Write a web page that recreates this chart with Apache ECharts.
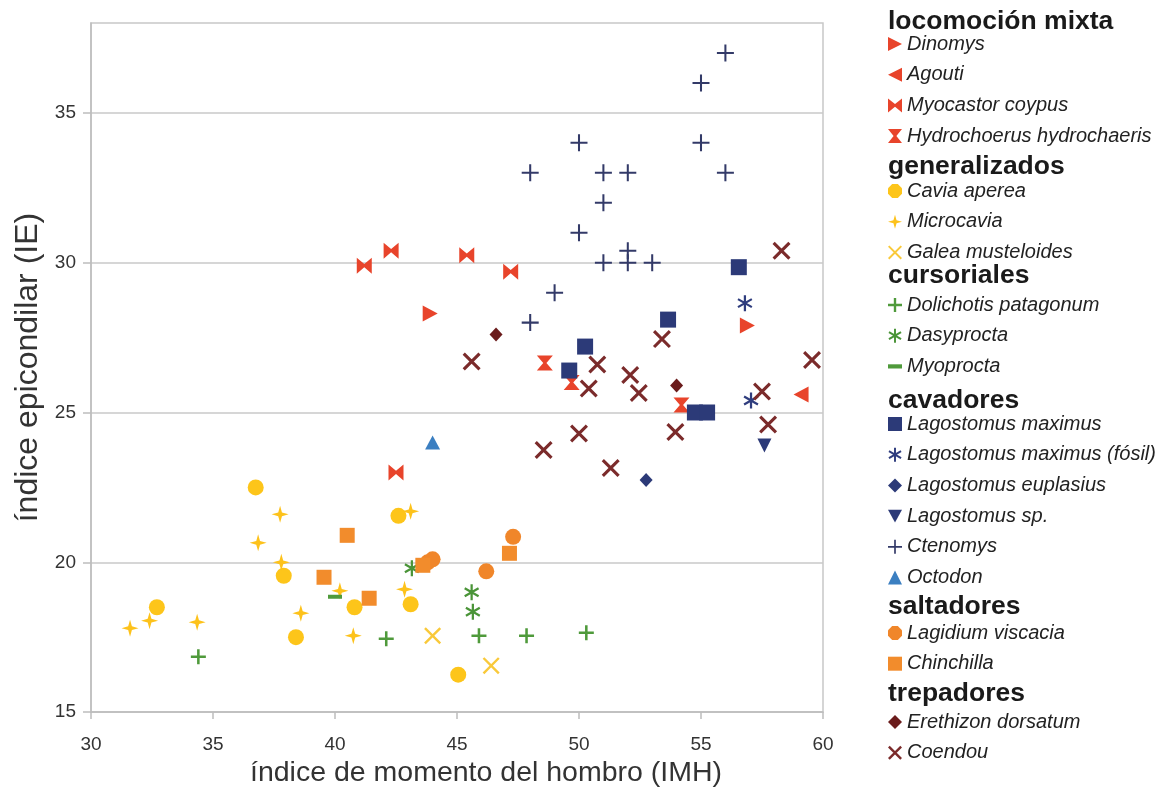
<!DOCTYPE html>
<html><head><meta charset="utf-8">
<script src="https://cdn.jsdelivr.net/npm/echarts@6/dist/echarts.min.js"></script>
<style>html,body{margin:0;padding:0;background:#fff}#c{width:1162px;height:793px}</style>
</head><body><div id="c"></div><script>
// ---- data (x = IMH, y = IE) ----
const dinomys = [[43.9,28.3],[56.9,27.9]];
const agouti = [[59.1,25.6]];
const myocastor = [[41.2,29.9],[42.3,30.4],[45.4,30.25],[47.2,29.7],[42.5,23.0]];
const hydrochoerus = [[48.6,26.65],[49.7,26.0],[54.2,25.25]];
const cavia = [[36.75,22.5],[37.9,19.55],[32.7,18.5],[38.4,17.5],[42.6,21.55],[40.8,18.5],[43.1,18.6],[45.05,16.25]];
const microcavia = [[37.75,21.6],[36.85,20.65],[37.8,20.0],[38.6,18.3],[31.6,17.8],[32.4,18.05],[34.35,18.0],[43.1,21.7],[40.2,19.05],[42.85,19.1],[40.75,17.55]];
const galea = [[44.0,17.55],[46.4,16.55]];
const dolichotis = [[34.4,16.85],[42.1,17.45],[45.9,17.55],[47.85,17.55],[50.3,17.65]];
const dasyprocta = [[43.15,19.8],[45.6,19.0],[45.65,18.35]];
const myoprocta = [[40.0,18.85]];
const lagMaximus = [[54.75,25.0],[55.25,25.0],[56.55,29.85],[53.65,28.1],[50.25,27.2],[49.6,26.4]];
const lagFosil = [[56.8,28.65],[57.05,25.4]];
const lagEuplasius = [[52.75,22.75]];
const lagSp = [[57.6,23.9]];
const ctenomys = [[56.0,37.0],[55.0,36.0],[50.0,34.0],[55.0,34.0],[48.0,33.0],[51.0,33.0],[52.0,33.0],[56.0,33.0],[51.0,32.0],[50.0,31.0],[52.0,30.4],[51.0,30.0],[52.0,30.0],[53.0,30.0],[49.0,29.0],[48.0,28.0]];
const octodon = [[44.0,24.0]];
const lagidium = [[47.3,20.85],[46.2,19.7],[43.8,20.0],[44.0,20.1]];
const chinchilla = [[40.5,20.9],[41.4,18.8],[47.15,20.3],[43.6,19.9],[39.55,19.5]];
const erethizon = [[46.6,27.6],[54.0,25.9]];
const coendou = [[45.6,26.7],[50.75,26.6],[50.4,25.8],[52.1,26.25],[52.45,25.65],[53.4,27.45],[50.0,24.3],[48.55,23.75],[51.3,23.15],[53.95,24.35],[58.3,30.4],[59.55,26.75],[57.5,25.7],[57.75,24.6]];

const xTicks = [30,35,40,45,50,55,60];
const yTicks = [15,20,25,30,35];

const groupTitles = ['locomoción mixta','generalizados','cursoriales','cavadores','saltadores','trepadores'];
const groupMembers = [
  ['Dinomys','Agouti','Myocastor coypus','Hydrochoerus hydrochaeris'],
  ['Cavia aperea','Microcavia','Galea musteloides'],
  ['Dolichotis patagonum','Dasyprocta','Myoprocta'],
  ['Lagostomus maximus','Lagostomus maximus (fósil)','Lagostomus euplasius','Lagostomus sp.','Ctenomys','Octodon'],
  ['Lagidium viscacia','Chinchilla'],
  ['Erethizon dorsatum','Coendou']
];

// ---- symbol helpers ----
function strokes(angles, ht) {
  let d = '';
  for (const a of angles) {
    const r = a*Math.PI/180, ux = Math.cos(r)*5, uy = Math.sin(r)*5, vx = -Math.sin(r)*ht, vy = Math.cos(r)*ht;
    const pts = [[5-ux-vx,5-uy-vy],[5+ux-vx,5+uy-vy],[5+ux+vx,5+uy+vy],[5-ux+vx,5-uy+vy]];
    d += 'M' + pts.map(p => p[0].toFixed(3)+','+p[1].toFixed(3)).join(' L') + ' Z ';
  }
  return 'path://' + d;
}
const S = {
  right: 'path://M0,0 L10,5 L0,10 Z',
  left: 'path://M10,0 L0,5 L10,10 Z',
  bowtie: 'path://M0,0 L5,4 L10,0 L10,10 L5,6 L0,10 Z',
  hourglass: 'path://M0,0 L10,0 L6,5 L10,10 L0,10 L4,5 Z',
  star4: 'path://M5,0 L6.1,3.9 L10,5 L6.1,6.1 L5,10 L3.9,6.1 L0,5 L3.9,3.9 Z',
  down: 'path://M0,0 L10,0 L5,9 Z',
  dash: 'path://M0,0 L10,0 L10,3 L0,3 Z',
  octa: 'path://M3,0 L7,0 L10,3 L10,7 L7,10 L3,10 L0,7 L0,3 Z'
};

const specs = [
  {name:'Dinomys', data:dinomys, color:'#e8442b', symbol:S.right, size:[15,16]},
  {name:'Agouti', data:agouti, color:'#e8442b', symbol:S.left, size:[15,16]},
  {name:'Myocastor coypus', data:myocastor, color:'#e8442b', symbol:S.bowtie, size:[15,16]},
  {name:'Hydrochoerus hydrochaeris', data:hydrochoerus, color:'#e8442b', symbol:S.hourglass, size:[16,15]},
  {name:'Cavia aperea', data:cavia, color:'#fdc51a', symbol:'circle', size:16},
  {name:'Microcavia', data:microcavia, color:'#fdc21b', symbol:S.star4, size:17},
  {name:'Galea musteloides', data:galea, color:'#f9c93a', symbol:strokes([45,135],0.55), size:17},
  {name:'Dolichotis patagonum', data:dolichotis, color:'#4f9a3b', symbol:strokes([0,90],0.85), size:15},
  {name:'Dasyprocta', data:dasyprocta, color:'#4a9438', symbol:strokes([90,30,150],0.7), size:[15,16]},
  {name:'Myoprocta', data:myoprocta, color:'#4f9a3b', symbol:S.dash, size:[14,4]},
  {name:'Lagostomus maximus', data:lagMaximus, color:'#2c3a78', symbol:'rect', size:16},
  {name:'Lagostomus maximus (fósil)', data:lagFosil, color:'#2f3d7e', symbol:strokes([90,30,150],0.7), size:[15,16]},
  {name:'Lagostomus euplasius', data:lagEuplasius, color:'#2c3a78', symbol:'diamond', size:[13,14]},
  {name:'Lagostomus sp.', data:lagSp, color:'#2c3a78', symbol:S.down, size:[14,14]},
  {name:'Ctenomys', data:ctenomys, color:'#333a68', symbol:strokes([0,90],0.6), size:17},
  {name:'Octodon', data:octodon, color:'#3b7fc1', symbol:'triangle', size:[15,14]},
  {name:'Lagidium viscacia', data:lagidium, color:'#f0862a', symbol:'circle', size:16},
  {name:'Chinchilla', data:chinchilla, color:'#f28c2c', symbol:'rect', size:15},
  {name:'Erethizon dorsatum', data:erethizon, color:'#6a1b1b', symbol:'diamond', size:[13,14]},
  {name:'Coendou', data:coendou, color:'#7b2b2b', symbol:strokes([45,135],0.7), size:18}
];

const legendIcon = {
  'Cavia aperea': S.octa, 'Lagidium viscacia': S.octa
};

const headerTop = [8, 153, 262, 387, 593, 680];
const legendTop = [34, 181, 295, 414, 623, 712];
const FONT = '"Liberation Sans", Arial, sans-serif';

const legends = groupMembers.map((m, i) => ({
  orient: 'vertical', left: 888, top: legendTop[i], padding: 0,
  itemWidth: 14, itemHeight: 14, itemGap: 10.7, selectedMode: false,
  data: m.map(n => legendIcon[n] ? {name: n, icon: legendIcon[n]} : {name: n}),
  textStyle: {fontSize: 20, fontStyle: 'italic', fontFamily: FONT, color: '#222', lineHeight: 20, padding: [0,0,0,0]}
}));

const graphics = groupTitles.map((t, i) => ({
  type: 'text', left: 888, top: headerTop[i],
  style: {text: t, font: 'bold 26.5px ' + FONT, fill: '#1a1a1a'}
}));

const chart = echarts.init(document.getElementById('c'), null, {renderer: 'canvas'});
chart.setOption({
  animation: false,
  backgroundColor: '#fff',
  grid: {left: 91, right: 339, top: 23, bottom: 80, show: true, borderColor: '#c8c8c8', borderWidth: 1.5},
  legend: legends,
  graphic: graphics,
  xAxis: {
    type: 'value', min: xTicks[0], max: xTicks[xTicks.length-1], interval: 5,
    name: 'índice de momento del hombro (IMH)', nameLocation: 'middle', nameGap: 44,
    nameTextStyle: {fontSize: 28.5, fontFamily: FONT, color: '#333', padding: [0,0,0,58]},
    axisLine: {show: true, lineStyle: {color: '#bdbdbd', width: 1.5}},
    axisTick: {show: true, length: 7, lineStyle: {color: '#bdbdbd', width: 1.5}},
    axisLabel: {fontSize: 19, fontFamily: FONT, color: '#333', margin: 23},
    splitLine: {show: false}
  },
  yAxis: {
    type: 'value', min: yTicks[0], max: 38, interval: 5,
    name: 'índice epicondilar (IE)', nameLocation: 'middle', nameGap: 45,
    nameTextStyle: {fontSize: 32, fontFamily: FONT, color: '#333'},
    axisLine: {show: true, lineStyle: {color: '#bdbdbd', width: 1.5}},
    axisTick: {show: true, length: 8, lineStyle: {color: '#bdbdbd', width: 1.5}, customValues: yTicks},
    axisLabel: {fontSize: 19, fontFamily: FONT, color: '#333', margin: 15, customValues: yTicks},
    splitLine: {show: true, lineStyle: {color: '#c8c8c8', width: 1.5}}
  },
  series: specs.map(s => ({
    type: 'scatter', name: s.name, data: s.data,
    symbol: s.symbol, symbolSize: s.size,
    itemStyle: {color: s.color, opacity: 1},
    emphasis: {disabled: true}
  }))
});
</script></body></html>
